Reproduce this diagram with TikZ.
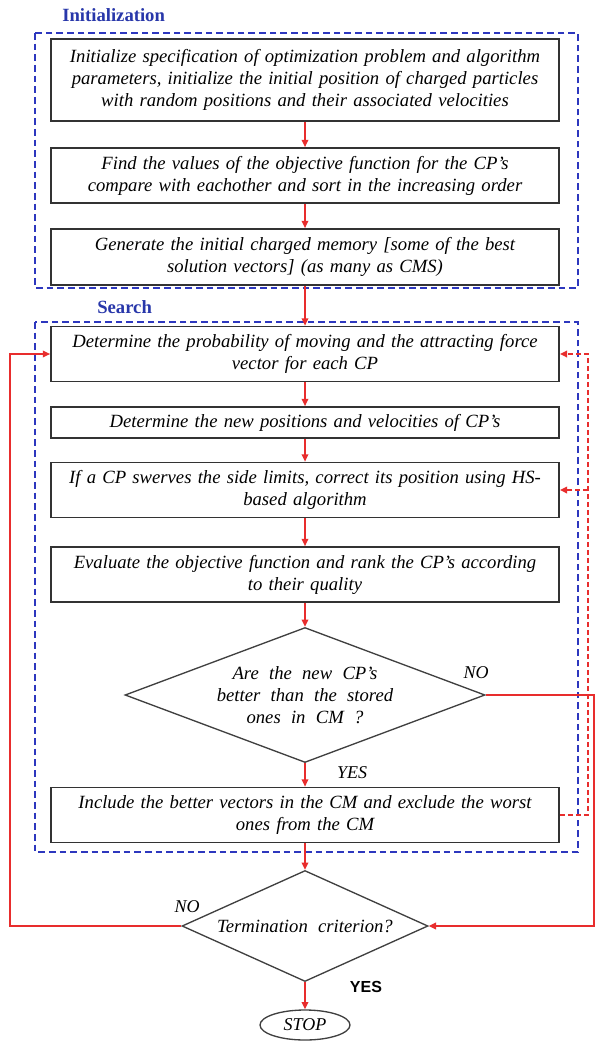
\documentclass[tikz,border=0pt]{standalone}
\usepackage{fontspec}
\setmainfont{Liberation Serif}[WordSpace=2.2]
\newfontfamily\yesfont{Liberation Sans}
\usetikzlibrary{positioning, shapes.geometric, arrows.meta}
\definecolor{frameblue}{RGB}{45,55,190}
\definecolor{titleblue}{RGB}{40,55,170}
\definecolor{flowred}{RGB}{232,45,45}

\begin{document}
\begin{tikzpicture}[x=0.75pt, y=-0.75pt, >={Triangle[length=5.5pt,width=5pt]}]

\tikzstyle{block} = [
    rectangle,
    draw=black!80,
    line width=1.3pt,
    fill=white,
    text width=375pt,
    inner xsep=3pt,
    inner ysep=0pt,
    align=center,
    font=\itshape\fontsize{14}{16.5}\selectfont,
    minimum height=41.25pt
];
\tikzstyle{decision} = [
    diamond,
    draw=black!75,
    line width=1pt,
    fill=white,
    inner sep=0pt,
    align=center,
    font=\itshape\fontsize{14}{16.5}\selectfont
];
\tikzstyle{group} = [draw=frameblue, line width=1.5pt, dash pattern=on 5pt off 3pt];
\tikzstyle{title} = [font=\bfseries\fontsize{14}{16}\selectfont, text=titleblue, anchor=west, inner sep=0pt];
\tikzstyle{flow} = [color=flowred, line width=1.1pt, ->];
\tikzstyle{loop} = [flow, line width=1.3pt, dash pattern=on 4pt off 2pt];
\tikzstyle{answer} = [font=\itshape\fontsize{13.5}{15}\selectfont, inner sep=0pt];

\useasboundingbox (0,0) rectangle (595,1041);

% the two phases
\draw[group] (35,33) rectangle (578,288);
\draw[group] (35,322) rectangle (578,852);
\node[title] (inittitle) at (62,15) {Initialization};
\node[title] (searchtitle) at (97,307) {Search};

\node[block, minimum height=61.5pt] (init) at (305,80) {Initialize specification of optimization problem and algorithm\\ parameters, initialize the initial position of charged particles\\ with random positions and their associated velocities};
\node[block] (sort) at (305,175.5) {Find the values of the objective function for the CP's\\ compare with eachother and sort in the increasing order};
\node[block, minimum height=42pt] (memory) at (305,257) {Generate the initial charged memory [some of the best\\ solution vectors] (as many as CMS)};

\node[block] (prob) at (305,354) {Determine the probability of moving and the attracting force\\ vector for each CP};
\node[block, minimum height=23.25pt] (newpos) at (305,422.5) {Determine the new positions and velocities of CP's};
\node[block] (limits) at (305,490) {If a CP swerves the side limits, correct its position using HS-\\ based algorithm};
\node[block] (rank) at (305,574.5) {Evaluate the objective function and rank the CP's according\\ to their quality};
\node[decision, shape aspect=2.67, minimum width=270pt, minimum height=101.25pt] (better) at (305,695) {Are the new CP's\\ better than the stored\\ ones in CM ?};
\node[block] (include) at (305,815) {Include the better vectors in the CM and exclude the worst\\ ones from the CM};

\node[decision, shape aspect=2.2, minimum width=184.5pt, minimum height=83.25pt] (term) at (305,926) {Termination criterion?};
\node[ellipse, draw=black!75, line width=1pt, minimum width=67.5pt, minimum height=22.5pt, inner sep=0pt, font=\itshape\fontsize{13.5}{15}\selectfont] (stop) at (305,1025) {STOP};

\node[answer] (yes1) at (352,773) {YES};
\node[answer] (no1) at (476,673) {NO};
\node[answer] (no2) at (187,907) {NO};
\node[inner sep=0pt, font=\yesfont\bfseries\fontsize{12}{14}\selectfont] (yes2) at (366,987) {YES};

\coordinate (leftrim) at (10,0);
\coordinate (rightrim) at (594,0);
\coordinate (backrim) at (588,0);

\draw[flow] (init) -- (sort);
\draw[flow] (sort) -- (memory);
\draw[flow] (memory) -- (prob);
\draw[flow] (prob) -- (newpos);
\draw[flow] (newpos) -- (limits);
\draw[flow] (limits) -- (rank);
\draw[flow] (rank) -- (better);
\draw[flow] (better) -- (include);
\draw[flow] (include) -- (term);
\draw[flow] (term) -- (stop);

\draw[flow] (better.east) -| (rightrim |- term.east) -- (term.east);
\draw[flow] (term.west) -| (leftrim |- prob.west) -- (prob.west);

\draw[loop] (include.east) -| (backrim |- prob.east) -- (prob.east);
\draw[loop] (backrim |- limits.east) -- (limits.east);

\end{tikzpicture}
\end{document}
